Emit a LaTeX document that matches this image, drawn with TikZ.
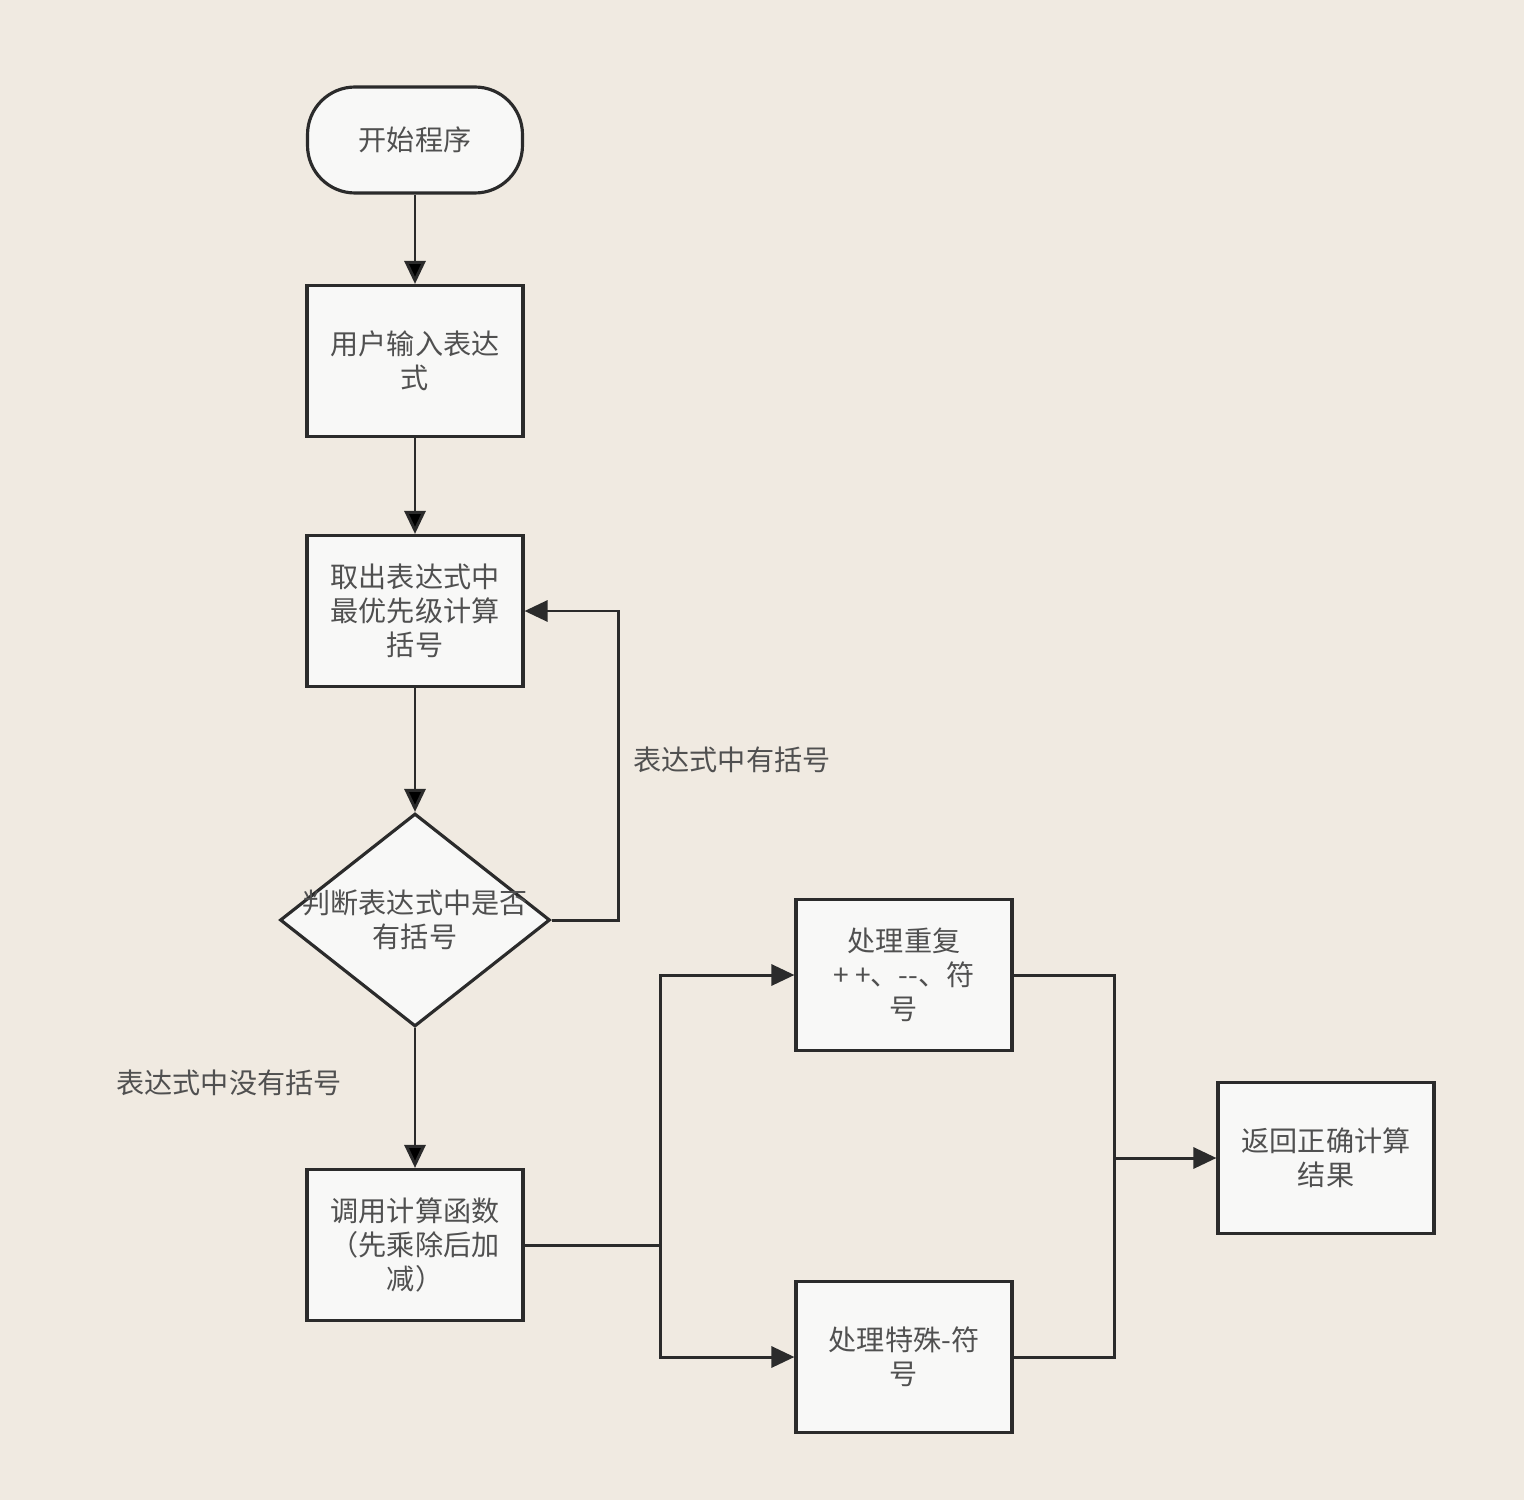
\documentclass[tikz,border=0pt]{standalone}
\usepackage{fontspec}
\setmainfont{Noto Sans CJK SC}
\usepackage{tikz}
\usetikzlibrary{shapes,shapes.geometric,arrows.meta,calc,positioning}
\definecolor{paperbg}{HTML}{F0EAE1}
\definecolor{boxfill}{HTML}{F8F8F7}
\definecolor{inkline}{HTML}{2B2B2B}
\definecolor{inktext}{HTML}{505050}
\tikzset{startstop/.style={draw=inkline,fill=boxfill,line width=1.8pt,rounded corners=0.95cm,minimum width=4.3cm,minimum height=2.12cm,text=inktext,align=center}}
\tikzset{process/.style={draw=inkline,fill=boxfill,line width=1.8pt,rectangle,minimum width=4.32cm,minimum height=3.02cm,text=inktext,align=center}}
\tikzset{decision/.style={draw=inkline,fill=boxfill,line width=1.8pt,diamond,inner sep=0pt,minimum width=5.4cm,minimum height=4.26cm}}
\tikzset{lbl/.style={text=inktext,align=center}}

\begin{document}
\begin{tikzpicture}[x=0.02cm, y=-0.02cm, >={Triangle[length=0.46cm,width=0.42cm]}, line width=1.7pt, font=\fontsize{16pt}{19.3pt}\selectfont]
\fill[paperbg] (0,0) rectangle (1524,1500);
\node[startstop] (S0) at (415,140) {开始程序};
\node[process] (S1) at (415,361) {用户输入表达\\式};
\node[process] (S2) at (415,611) {取出表达式中\\最优先级计算\\括号};
\node[decision, label={[lbl]center:判断表达式中是否\\有括号}] (S3) at (415,920) {};
\node[process] (S4) at (415,1245) {调用计算函数\\（先乘除后加\\减）};
\node[process] (S5) at (904,975) {处理重复\\+ +、{-}{-}、符\\号};
\node[process] (S6) at (904,1357) {处理特殊-符\\号};
\node[process] (S7) at (1326,1158) {返回正确计算\\结果};

\coordinate (loop) at ($(S3.east)+(67,0)$);
\coordinate (split) at ($(S4.east)+(136,0)$);
\coordinate (merge) at ($(S7.west)+(-102,0)$);

\node[lbl] (L1) at (732,760) {表达式中有括号};
\node[lbl] (L2) at (229,1083) {表达式中没有括号};

\path[draw=inkline,->] (S0) edge (S1)
	(S1) edge (S2)
	(S2) edge (S3)
	(S3) edge (S4);
\draw[inkline,->] (S3.east) -- (loop) |- (S2.east);
\draw[inkline] (S4.east) -- (split);
\draw[inkline,->] (split) |- (S5.west);
\draw[inkline,->] (split) |- (S6.west);
\draw[inkline] (S5.east) -| (merge);
\draw[inkline] (S6.east) -| (merge);
\draw[inkline,->] (merge) -- (S7.west);
\end{tikzpicture}
\end{document}
